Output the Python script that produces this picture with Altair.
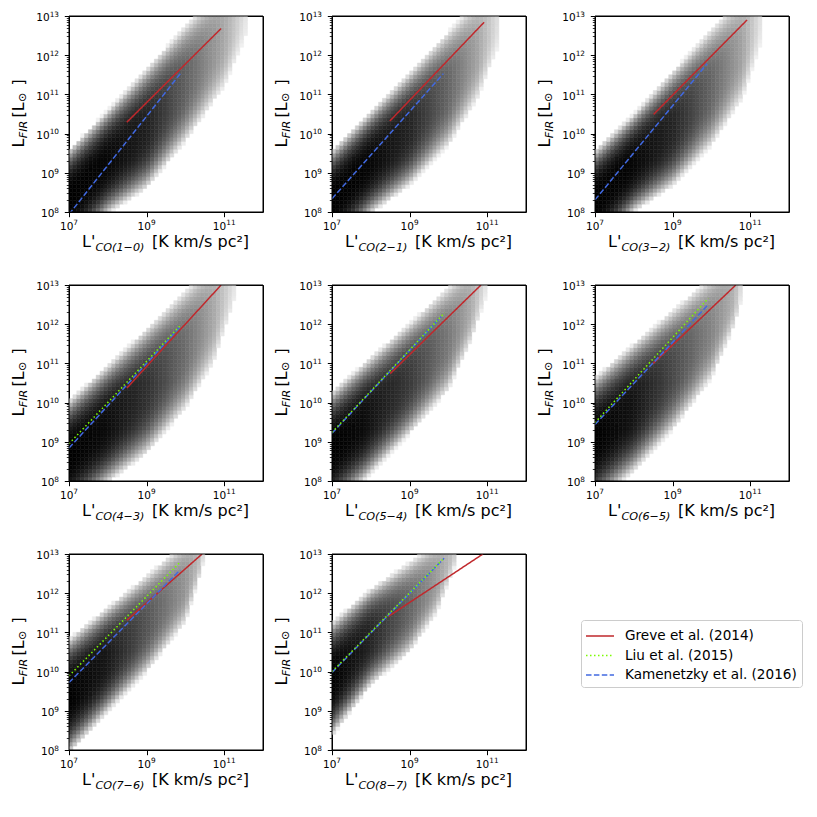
import altair as alt
import numpy as np
import pandas as pd

# ---------------- data ----------------
SUB_LABELS = ["CO(1−0)", "CO(2−1)", "CO(3−2)", "CO(4−3)",
              "CO(5−4)", "CO(6−5)", "CO(7−6)", "CO(8−7)"]

REFS = ["Greve et al. (2014)", "Liu et al. (2015)", "Kamenetzky et al. (2016)"]
REF_COLORS = ["#c0282c", "#7cfc00", "#4169e1"]
REF_DASH = [[1, 0], [1.5, 2.5], [5.5, 2.4]]

# straight fit lines (log10 L'CO, log10 LFIR) start / end per panel
GREVE_X0 = [8.49, 8.49, 8.51, 8.49, 8.50, 8.49, 8.49, 8.46]
GREVE_Y0 = [10.29, 10.32, 10.49, 10.37, 10.74, 10.99, 11.31, 11.41]
GREVE_X1 = [10.92, 10.92, 10.92, 10.92, 10.84, 10.63, 10.43, 10.89]
GREVE_Y1 = [12.68, 12.84, 12.90, 13.00, 13.00, 13.00, 13.00, 13.00]

LIU_X0 = [None, None, None, 7.0, 7.0, 7.0, 7.0, 7.0]
LIU_Y0 = [None, None, None, 8.95, 9.24, 9.49, 9.89, 10.00]
LIU_X1 = [None, None, None, 9.89, 9.90, 9.92, 9.88, 9.89]
LIU_Y1 = [None, None, None, 11.99, 12.29, 12.66, 12.81, 12.90]

KAM_X0 = [7.0, 7.0, 7.0, 7.0, 7.0, 7.0, 7.0, 7.0]
KAM_Y0 = [7.94, 8.34, 8.31, 8.84, 9.22, 9.44, 9.72, 9.98]
KAM_X1 = [9.87, 9.87, 9.89, 9.87, 9.81, 9.89, 9.87, 9.89]
KAM_Y1 = [11.53, 11.53, 11.78, 11.94, 12.19, 12.47, 12.60, 12.89]

# 2-D histogram: outer envelope (log10 values) and ridge darkness per panel
ENV_X = [
    [7, 8, 9, 10, 11, 11.6],
    [7, 8, 9, 10, 10.75, 11.35],
    [7, 8, 9, 10, 10.8, 11.3],
    [7, 8, 9, 10, 10.73, 11.3],
    [7, 7.82, 9, 10, 10.6, 11.0],
    [7, 8, 9, 10, 10.6, 10.8],
    [7, 8, 9, 10, 10.38, 10.5],
    [7, 8, 9, 9.7, 10.13, 10.25],
]
ENV_LO = [
    [7.0, 7.95, 8.6, 9.8, 11.2, 12.6],
    [7.0, 7.95, 8.68, 9.7, 10.9, 12.4],
    [7.0, 8.0, 8.66, 9.7, 10.9, 12.4],
    [7.2, 7.95, 8.7, 9.85, 11.03, 12.7],
    [7.3, 8.0, 9.2, 10.32, 11.6, 12.8],
    [7.4, 8.24, 9.3, 10.61, 11.97, 12.7],
    [7.9, 8.97, 9.99, 11.26, 12.45, 12.9],
    [8.35, 9.65, 10.5, 11.5, 12.6, 12.9],
]
ENV_HI = [
    [9.6, 10.6, 11.65, 12.75, 13.8, 14.4],
    [9.58, 10.56, 11.55, 12.6, 13.4, 14.0],
    [9.58, 10.5, 11.58, 12.66, 13.5, 14.0],
    [10.06, 10.95, 11.88, 12.85, 13.6, 14.1],
    [10.28, 11.0, 12.02, 12.95, 13.5, 13.9],
    [10.65, 11.5, 12.35, 13.2, 13.7, 13.9],
    [10.84, 11.64, 12.45, 13.3, 13.6, 13.7],
    [11.26, 12.11, 12.79, 13.3, 13.6, 13.7],
]
RIDGE_DARK = [
    [1.0, 0.97, 0.87, 0.60, 0.30, 0.03],
    [1.0, 0.97, 0.85, 0.58, 0.32, 0.03],
    [1.0, 0.97, 0.85, 0.58, 0.32, 0.03],
    [1.0, 0.95, 0.80, 0.55, 0.30, 0.03],
    [1.0, 0.95, 0.76, 0.50, 0.28, 0.03],
    [1.0, 0.92, 0.70, 0.45, 0.25, 0.03],
    [1.0, 0.90, 0.65, 0.38, 0.20, 0.03],
    [1.0, 0.85, 0.58, 0.35, 0.18, 0.03],
]
BIN = 0.1  # hexbin cell size in dex

X_TICKS = [1e7, 1e9, 1e11]
X_EXPS = ["7", "9", "11"]
Y_TICKS = [1e8, 1e9, 1e10, 1e11, 1e12, 1e13]
Y_EXPS = ["8", "9", "10", "11", "12", "13"]

# ---------------- tables ----------------
cell_rows = []
for p in range(8):
    xs = np.array(ENV_X[p], float)
    lo = np.array(ENV_LO[p], float)
    hi = np.array(ENV_HI[p], float)
    rd = np.array(RIDGE_DARK[p], float)
    nx = int(round((xs[-1] - 7.0) / BIN))
    for i in range(nx):
        xc = 7.0 + (i + 0.5) * BIN
        l = np.interp(xc, xs, lo)
        h = np.interp(xc, xs, hi)
        r = np.interp(xc, xs, rd)
        m, half = (l + h) / 2, (h - l) / 2
        for j in range(50):
            yc = 8.0 + (j + 0.5) * BIN
            t = abs(yc - m) / half
            if t > 1:
                continue
            d = r * (1 - t ** 3)
            g = int(round(240 * (1 - d)))
            cell_rows.append((p, 10 ** (xc - BIN / 2), 10 ** (xc + BIN / 2),
                              10 ** (yc - BIN / 2), 10 ** (yc + BIN / 2),
                              "#%02x%02x%02x" % (g, g, g)))
cells = pd.DataFrame(cell_rows, columns=["panel", "x0", "x1", "y0", "y1", "c"])

line_rows = []
for p in range(8):
    for ref, X0, Y0, X1, Y1 in [
        (REFS[0], GREVE_X0, GREVE_Y0, GREVE_X1, GREVE_Y1),
        (REFS[2], KAM_X0, KAM_Y0, KAM_X1, KAM_Y1),
        (REFS[1], LIU_X0, LIU_Y0, LIU_X1, LIU_Y1),
    ]:
        if X0[p] is None:
            continue
        line_rows.append((p, ref, 10 ** X0[p], 10 ** Y0[p]))
        line_rows.append((p, ref, 10 ** X1[p], 10 ** Y1[p]))
lines = pd.DataFrame(line_rows, columns=["panel", "ref", "x", "y"])

x_lab = pd.DataFrame({"v": X_TICKS, "e": X_EXPS})
x_lab["n"] = x_lab.e.str.len()
y_lab = pd.DataFrame({"v": Y_TICKS, "e": Y_EXPS})
y_lab["n"] = y_lab.e.str.len()

# ---------------- chart ----------------
W, H = 194, 196
FONT = "DejaVu Sans"
TICK_FS = 10.5           # "10" of the tick labels
EXP_FS = 7.35            # exponent (mathtext superscript)
BASE_W = 2 * 0.636 * TICK_FS
DIG_W = 0.636 * EXP_FS

xscale = alt.Scale(type="log", domain=[1e7, 1e12], nice=False)
yscale = alt.Scale(type="log", domain=[1e8, 1e13], nice=False)

EXP = "log(datum.value)/LN10"
MAJOR = f"abs({EXP} - round({EXP})) < 0.001"

y_values = []
for dec in range(8, 13):
    for m in range(1, 10):
        y_values.append(m * 10.0 ** dec)
y_values.append(1e13)

xaxis = alt.Axis(values=X_TICKS, labels=False, title=None, grid=False,
                 domain=False, tickSize=4.7, tickWidth=1, tickColor="black")
yaxis = alt.Axis(values=y_values, labels=False, title=None, grid=False,
                 domain=False,
                 tickSize={"condition": {"test": MAJOR, "value": 4.7}, "value": 2.7},
                 tickWidth={"condition": {"test": MAJOR, "value": 1}, "value": 0.8},
                 tickColor="black")

legend = alt.Legend(title=None, orient="none", legendX=512, legendY=604,
                    symbolType="M-1.4,0H1.4", symbolSize=400, symbolStrokeWidth=1.5,
                    symbolOffset=3, symbolFillColor="transparent",
                    labelFont=FONT, labelFontSize=13.6, labelColor="black",
                    labelLimit=400, padding=5, rowPadding=1.5, labelOffset=14,
                    strokeColor="#cccccc", fillColor="white", cornerRadius=3)

color_scale = alt.Scale(domain=REFS, range=REF_COLORS)
dash_scale = alt.Scale(domain=REFS, range=REF_DASH)

ONE = pd.DataFrame({"t": [""]})


def text_piece(txt, x, y, size, italic=False, angle=0):
    return alt.Chart(pd.DataFrame({"t": [txt]})).mark_text(
        align="left", baseline="alphabetic", font=FONT, fontSize=size,
        fontStyle="italic" if italic else "normal", angle=angle, color="black"
    ).encode(text="t:N", x=alt.value(x), y=alt.value(y))


def tick_label_layers():
    out = []
    for n in (1, 2):
        dx_ = x_lab[x_lab.n == n]
        if len(dx_):
            total = BASE_W + n * DIG_W
            out.append(alt.Chart(dx_).mark_text(
                text="10", align="left", baseline="alphabetic", font=FONT,
                fontSize=TICK_FS, dx=-total / 2, color="black")
                .encode(x=alt.X("v:Q", scale=xscale, axis=xaxis), y=alt.value(H + 18)))
            out.append(alt.Chart(dx_).mark_text(
                align="left", baseline="alphabetic", font=FONT,
                fontSize=EXP_FS, dx=-total / 2 + BASE_W, color="black")
                .encode(x=alt.X("v:Q", scale=xscale, axis=xaxis), y=alt.value(H + 13.2),
                        text="e:N"))
        dy_ = y_lab[y_lab.n == n]
        if len(dy_):
            out.append(alt.Chart(dy_).mark_text(
                text="10", align="right", baseline="alphabetic", font=FONT,
                fontSize=TICK_FS, dx=-10 - n * DIG_W, dy=5.3, color="black")
                .encode(y=alt.Y("v:Q", scale=yscale, axis=yaxis), x=alt.value(0)))
            out.append(alt.Chart(dy_).mark_text(
                align="right", baseline="alphabetic", font=FONT,
                fontSize=EXP_FS, dx=-10, dy=0.8, color="black")
                .encode(y=alt.Y("v:Q", scale=yscale, axis=yaxis), x=alt.value(0),
                        text="e:N"))
    return out


def panel(p):
    layers = []
    d = cells[cells.panel == p]
    layers.append(
        alt.Chart(d).mark_rect(clip=True, strokeWidth=0.5)
        .encode(x=alt.X("x0:Q", scale=xscale, axis=xaxis), x2="x1:Q",
                y=alt.Y("y0:Q", scale=yscale, axis=yaxis), y2="y1:Q",
                fill=alt.Fill("c:N", scale=None, legend=None),
                stroke=alt.Stroke("c:N", scale=None, legend=None))
    )
    for ref in [REFS[0], REFS[2], REFS[1]]:
        dl = lines[(lines.panel == p) & (lines.ref == ref)]
        if len(dl) == 0:
            continue
        layers.append(
            alt.Chart(dl).mark_line(clip=True, strokeWidth=1.5)
            .encode(x=alt.X("x:Q", scale=xscale, axis=xaxis),
                    y=alt.Y("y:Q", scale=yscale, axis=yaxis),
                    color=alt.Color("ref:N", scale=color_scale, legend=legend),
                    strokeDash=alt.StrokeDash("ref:N", scale=dash_scale, legend=legend))
        )
    # frame drawn above the cells (matplotlib spines)
    layers.append(
        alt.Chart(ONE).mark_rect(filled=False, color="black", strokeWidth=1)
        .encode(x=alt.value(0), x2=alt.value(W), y=alt.value(0), y2=alt.value(H))
    )
    layers += tick_label_layers()
    # x axis title: L'_{CO(J-J')} [K km/s pc^2]
    layers.append(text_piece("L'", 13, 230.6, 16))
    layers.append(text_piece(SUB_LABELS[p], 26.5, 234.5, 11.2, italic=True))
    layers.append(text_piece("[K km/s pc²]", 83, 230.6, 16))
    # y axis title: L_{FIR} [L_sun]
    layers.append(text_piece("L", -45.5, 131.6, 16, angle=270))
    layers.append(text_piece("FIR", -42.5, 122.2, 11.2, italic=True, angle=270))
    layers.append(text_piece("[L", -45.5, 101.5, 16, angle=270))
    layers.append(text_piece("⊙", -43.0, 86.0, 11.2, angle=270))
    layers.append(text_piece("]", -45.5, 69.5, 16, angle=270))
    return alt.layer(*layers).properties(width=W, height=H)


chart = alt.concat(*[panel(p) for p in range(8)], columns=3,
                   spacing={"row": 73, "column": 69}, bounds="flush",
                   padding={"left": 2, "top": 2, "right": 2, "bottom": 2}
                   ).configure(font=FONT, background="white"
                   ).configure_view(stroke="black", strokeWidth=1)

chart.save("out.html", embed_options={"renderer": "svg", "actions": False})
